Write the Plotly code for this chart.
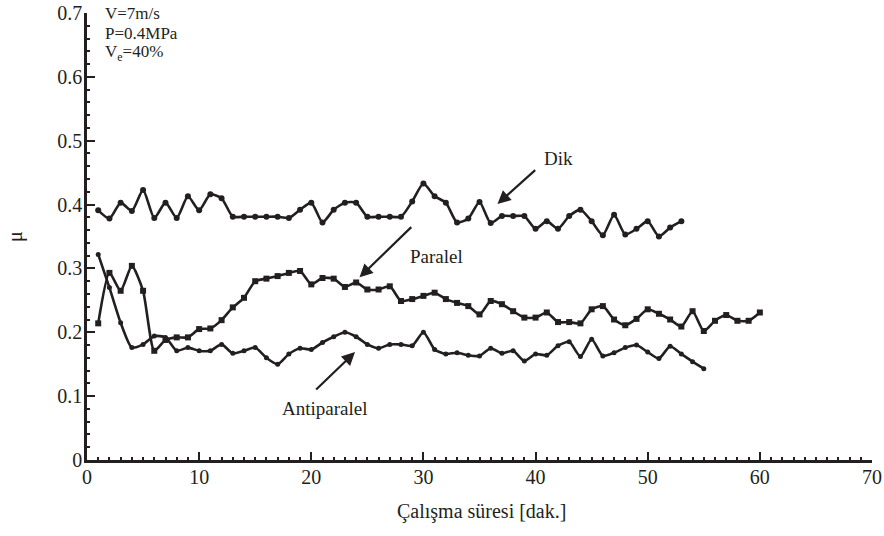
import plotly.graph_objects as go

# time [min]
t_dik = list(range(1, 54))
t_par = list(range(1, 61))
t_anti = list(range(1, 56))

mu_dik = [0.391, 0.378, 0.403, 0.390, 0.423, 0.379, 0.403, 0.379, 0.413, 0.391,
          0.416, 0.410, 0.381, 0.381, 0.381, 0.381, 0.381, 0.379, 0.392, 0.403,
          0.372, 0.392, 0.403, 0.403, 0.381, 0.381, 0.381, 0.381, 0.405, 0.433,
          0.413, 0.403, 0.372, 0.378, 0.404, 0.371, 0.382, 0.382, 0.382, 0.362,
          0.374, 0.362, 0.382, 0.392, 0.374, 0.352, 0.384, 0.353, 0.362, 0.374,
          0.350, 0.364, 0.374]

mu_par = [0.214, 0.293, 0.265, 0.304, 0.265, 0.171, 0.188, 0.192, 0.192, 0.205,
          0.206, 0.219, 0.239, 0.254, 0.280, 0.284, 0.288, 0.293, 0.296, 0.275,
          0.285, 0.284, 0.271, 0.278, 0.267, 0.267, 0.272, 0.249, 0.252, 0.257,
          0.262, 0.252, 0.246, 0.241, 0.228, 0.249, 0.244, 0.233, 0.223, 0.223,
          0.231, 0.216, 0.216, 0.214, 0.236, 0.241, 0.220, 0.211, 0.221, 0.236,
          0.229, 0.220, 0.209, 0.233, 0.202, 0.218, 0.227, 0.218, 0.218, 0.231]

mu_anti = [0.322, 0.270, 0.215, 0.176, 0.181, 0.194, 0.192, 0.171, 0.176, 0.171,
           0.171, 0.181, 0.167, 0.171, 0.176, 0.160, 0.150, 0.166, 0.175, 0.173,
           0.184, 0.193, 0.200, 0.193, 0.181, 0.175, 0.181, 0.181, 0.179, 0.200,
           0.173, 0.166, 0.168, 0.164, 0.163, 0.175, 0.167, 0.171, 0.155, 0.166,
           0.164, 0.179, 0.185, 0.162, 0.189, 0.163, 0.168, 0.176, 0.180, 0.169,
           0.159, 0.178, 0.166, 0.154, 0.143]

x_ticks = [0, 10, 20, 30, 40, 50, 60, 70]
y_ticks = [0, 0.1, 0.2, 0.3, 0.4, 0.5, 0.6, 0.7]
cond_lines = ["V=7m/s", "P=0.4MPa", "V<sub>e</sub>=40%"]

FONT = "Liberation Serif, Times New Roman, serif"
INK = "#231f20"

fig = go.Figure()
line = dict(color=INK, width=2.6, shape="spline", smoothing=0.6)
fig.add_trace(go.Scatter(x=t_dik, y=mu_dik, mode="lines+markers", line=line,
                         marker=dict(symbol="circle", size=6, color=INK)))
fig.add_trace(go.Scatter(x=t_par, y=mu_par, mode="lines+markers", line=line,
                         marker=dict(symbol="square", size=6, color=INK)))
fig.add_trace(go.Scatter(x=t_anti, y=mu_anti, mode="lines+markers", line=line,
                         marker=dict(symbol="circle", size=5, color=INK)))

arrow = dict(showarrow=True, arrowhead=2, arrowsize=1.2, arrowwidth=2.2,
             arrowcolor=INK, axref="x", ayref="y", xref="x", yref="y", text="")
fig.add_annotation(x=36.6, y=0.401, ax=40.1, ay=0.456, **arrow)
fig.add_annotation(x=24.3, y=0.286, ax=29.05, ay=0.367, **arrow)
fig.add_annotation(x=23.9, y=0.169, ax=20.3, ay=0.108, **arrow)

lab = dict(showarrow=False, xref="x", yref="y", font=dict(family=FONT, size=19, color=INK))
fig.add_annotation(x=42.0, y=0.472, text="Dik", **lab)
fig.add_annotation(x=31.2, y=0.318, text="Paralel", **lab)
fig.add_annotation(x=21.2, y=0.081, text="Antiparalel", **lab)

for txt, yp in zip(cond_lines, [0.998, 0.955, 0.911]):
    fig.add_annotation(xref="paper", yref="paper", x=0.02, y=yp, xanchor="left", yanchor="middle",
                       align="left", showarrow=False, text=txt,
                       font=dict(family=FONT, size=17, color=INK))

# x-axis title placed precisely
fig.add_annotation(xref="paper", yref="paper", x=0.502, y=-0.115, xanchor="center",
                   yanchor="middle", showarrow=False, text="Çalışma süresi [dak.]",
                   font=dict(family=FONT, size=20, color=INK))

axis_common = dict(showgrid=False, zeroline=False, showline=True, linecolor=INK, linewidth=2.5,
                   ticks="inside", ticklen=8, tickwidth=2, tickcolor=INK, automargin=False,
                   tickfont=dict(family=FONT, size=20, color=INK))

fig.update_xaxes(range=[0, 70], tickvals=x_ticks, ticktext=[str(v) for v in x_ticks],
                 minor=dict(ticks="inside", ticklen=3, tickwidth=1.5, tickcolor=INK, dtick=1),
                 ticklabelstandoff=-3,
                 **axis_common)
fig.update_yaxes(range=[0, 0.7], tickvals=y_ticks, ticktext=["0" if v == 0 else str(v) for v in y_ticks],
                 minor=dict(ticks="inside", ticklen=3, tickwidth=1.5, tickcolor=INK, dtick=0.02),
                 ticklabelstandoff=-2,
                 title=dict(text="μ", font=dict(family=FONT, size=20, color=INK), standoff=30),
                 **axis_common)

fig.update_layout(width=884, height=536, margin=dict(l=87, r=12, t=13, b=76),
                  plot_bgcolor="white", paper_bgcolor="white", showlegend=False,
                  font=dict(family=FONT, color=INK))

fig.write_html("out.html")
